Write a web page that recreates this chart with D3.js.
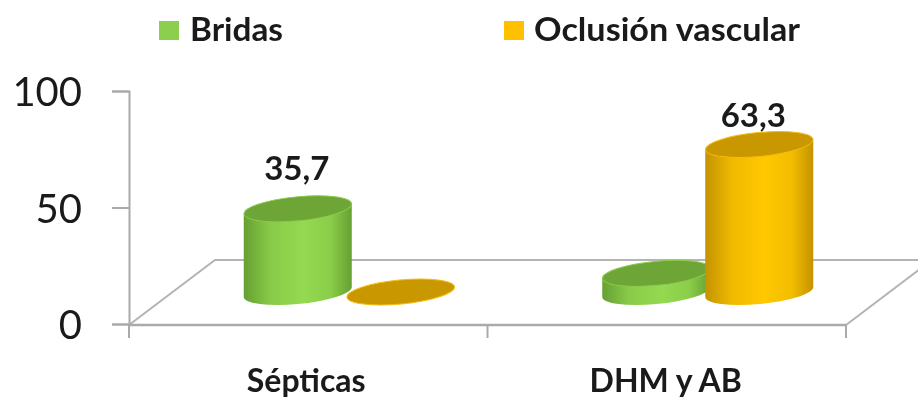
<!DOCTYPE html>
<html>
<head>
<meta charset="utf-8">
<script src="https://cdn.jsdelivr.net/npm/d3@7"></script>
<style>
  html, body { margin: 0; background: #fff; overflow: hidden; }
  svg { display: block; filter: blur(0.5px); }
  text { font-family: Lato, "Open Sans", sans-serif; fill: #1a1a1a; }
</style>
</head>
<body>
<div id="chart"></div>
<script>
const categories = ["Sépticas", "DHM y AB"];
const seriesNames = ["Bridas", "Oclusión vascular"];
const bridas = [35.7, 8];
const oclusion = [0, 63.3];
// solo se rotulan estos valores en el original
const bridasLabels = ["35,7", ""];
const oclusionLabels = ["", "63,3"];
const yTicks = [0, 50, 100];

const COLORS = [
  { edge: "#66a032", mid: "#94d950", top: "#6ea537", rim: "#8ccb48" },
  { edge: "#c49300", mid: "#ffc800", top: "#c99800", rim: "#f2bd10" }
];

const width = 918, height = 401;
const svg = d3.select("#chart").append("svg")
  .attr("width", width)
  .attr("height", height);

// escalas
const x = d3.scaleBand().domain(categories).range([129, 846]);
const y = d3.scaleLinear().domain([0, 100]).range([324, 91]);
const inner = d3.scaleBand().domain(seriesNames).range([-103, 103]);

// profundidad del piso 3D
const depth = { dx: 86, dy: -65 };
const mid = { dx: 41, dy: -32 };
const rx = 54, ry = 12, tilt = -5.5, lean = 5;

// centro de cada cilindro
const barCenter = (cat, name) =>
  x(cat) + x.bandwidth() / 2 + mid.dx + inner(name) + inner.bandwidth() / 2;

// degradados
const defs = svg.append("defs");
COLORS.forEach((c, i) => {
  const g = defs.append("linearGradient").attr("id", `grad${i}`);
  g.append("stop").attr("offset", "0%").attr("stop-color", c.edge);
  g.append("stop").attr("offset", "25%").attr("stop-color", d3.interpolateRgb(c.edge, c.mid)(0.75));
  g.append("stop").attr("offset", "55%").attr("stop-color", c.mid);
  g.append("stop").attr("offset", "80%").attr("stop-color", d3.interpolateRgb(c.edge, c.mid)(0.8));
  g.append("stop").attr("offset", "100%").attr("stop-color", c.edge);
});

// piso
const x0 = x.range()[0], x1 = x.range()[1], y0 = y(0) + 1;
const floor = [
  [x0, y0],
  [x0 + depth.dx, y0 + depth.dy],
  [x1 + depth.dx, y0 + depth.dy],
  [x1, y0]
];
svg.append("path")
  .attr("d", d3.line()(floor))
  .attr("fill", "none")
  .attr("stroke", "#b4b4b4")
  .attr("stroke-width", 2);
svg.append("line")
  .attr("x1", x0).attr("x2", x1)
  .attr("y1", y0).attr("y2", y0)
  .attr("stroke", "#aaa")
  .attr("stroke-width", 2.5);

// eje y
const yAxis = svg.append("g")
  .attr("transform", `translate(${x0},0)`)
  .call(d3.axisLeft(y).tickValues(yTicks).tickSize(17).tickPadding(30));
yAxis.selectAll("path, line").attr("stroke", "#aaa").attr("stroke-width", 2);
yAxis.selectAll("text")
  .style("font-size", "40px")
  .attr("font-family", null)
  .attr("transform", "translate(0,2)");

// eje x
const xTickPos = [x0, x0 + x.bandwidth(), x1];
svg.append("g").selectAll("line")
  .data(xTickPos)
  .enter()
  .append("line")
  .attr("x1", d => d).attr("x2", d => d)
  .attr("y1", y0).attr("y2", y0 + 13)
  .attr("stroke", "#aaa")
  .attr("stroke-width", 2);

svg.append("g").selectAll("text")
  .data(categories)
  .enter()
  .append("text")
  .attr("x", d => x(d) + x.bandwidth() / 2 + (d === categories[0] ? -2 : -1))
  .attr("y", 392)
  .attr("text-anchor", "middle")
  .attr("font-size", "32px")
  .attr("font-weight", 700)
  .text(d => d);

// cilindros
function drawCylinder(cat, name, val, i) {
  const cx = barCenter(cat, name);
  const base = y(0) + mid.dy;
  const top = y(val) + mid.dy;
  const c = COLORS[i];
  const arcAttr = `${rx} ${ry} ${tilt}`;

  if (val > 0) {
    svg.append("path")
      .attr("d", `M${cx - rx},${top + lean} L${cx - rx},${base + lean}
        A${arcAttr} 0 0 ${cx + rx},${base - lean}
        L${cx + rx},${top - lean} Z`)
      .attr("fill", `url(#grad${i})`);
  }
  svg.append("ellipse")
    .attr("cx", cx)
    .attr("cy", top)
    .attr("rx", rx)
    .attr("ry", ry)
    .attr("transform", `rotate(${tilt} ${cx} ${top})`)
    .attr("fill", c.top)
    .attr("stroke", c.rim)
    .attr("stroke-width", 1);
}

categories.forEach((cat, k) => {
  drawCylinder(cat, seriesNames[0], bridas[k], 0);
  drawCylinder(cat, seriesNames[1], oclusion[k], 1);
});

// etiquetas de valor
function drawLabels(name, vals, labels, dx, dy) {
  categories.forEach((cat, k) => {
    if (!labels[k]) return;
    svg.append("text")
      .attr("x", barCenter(cat, name) + dx)
      .attr("y", y(vals[k]) + mid.dy + dy)
      .attr("text-anchor", "middle")
      .attr("font-size", "33px")
      .attr("font-weight", 700)
      .text(labels[k]);
  });
}
drawLabels(seriesNames[0], bridas, bridasLabels, -1, -29);
drawLabels(seriesNames[1], oclusion, oclusionLabels, -6, -18);

// leyenda
const legendX = [159, 504];
const legendTextX = [31, 30];
const legendTextW = [93, 266];
const legend = svg.append("g").selectAll("g")
  .data(seriesNames)
  .enter()
  .append("g")
  .attr("transform", (d, i) => `translate(${legendX[i]},21)`);
legend.append("rect")
  .attr("width", 20)
  .attr("height", 19)
  .attr("fill", (d, i) => i === 0 ? "#8ccf4f" : "#ffc000");
legend.append("text")
  .attr("x", (d, i) => legendTextX[i])
  .attr("y", 20)
  .attr("font-size", "33px")
  .attr("font-weight", 700)
  .attr("textLength", (d, i) => legendTextW[i])
  .attr("lengthAdjust", "spacingAndGlyphs")
  .text(d => d);
</script>
</body>
</html>
